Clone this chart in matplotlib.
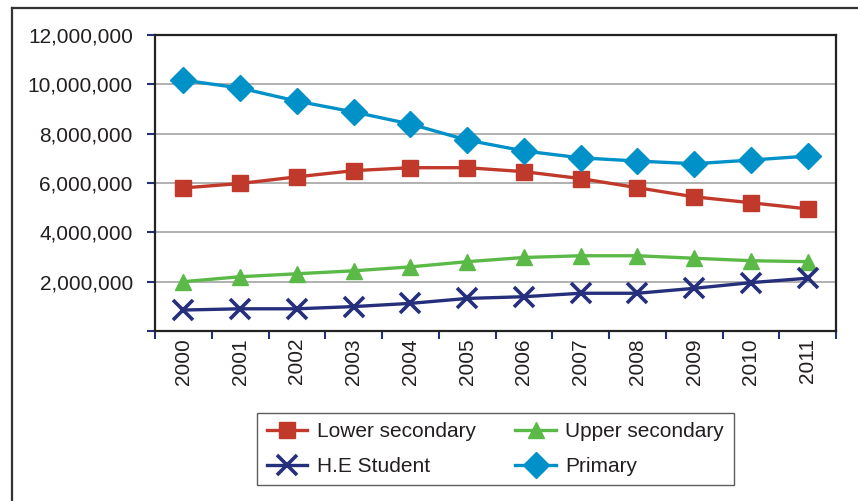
import matplotlib
matplotlib.use("Agg")
import matplotlib.pyplot as plt
from matplotlib.lines import Line2D
from matplotlib.ticker import FuncFormatter, FixedLocator
import numpy as np

years = ["2000", "2001", "2002", "2003", "2004", "2005", "2006", "2007", "2008", "2009", "2010", "2011"]
lower_secondary = [5800000, 5980000, 6250000, 6500000, 6620000, 6620000, 6460000, 6180000, 5810000, 5440000, 5200000, 4950000]
upper_secondary = [2000000, 2200000, 2320000, 2440000, 2600000, 2810000, 2980000, 3050000, 3050000, 2950000, 2850000, 2810000]
he_student = [850000, 900000, 900000, 990000, 1120000, 1320000, 1390000, 1530000, 1530000, 1730000, 1960000, 2140000]
primary = [10170000, 9850000, 9320000, 8880000, 8390000, 7740000, 7300000, 7020000, 6890000, 6780000, 6930000, 7090000]

plt.rcParams['font.family'] = ['Liberation Sans', 'DejaVu Sans']

fig = plt.figure(figsize=(8.58, 5.01), dpi=100)
W, H = 858, 501
ax = fig.add_axes([155 / W, 1 - 331 / H, (836 - 155) / W, (331 - 35) / H])

x = np.arange(len(years))
c_low = "#c0392b"
c_up = "#5bba47"
c_he = "#262f7c"
c_pri = "#0091c9"

l_low, = ax.plot(x, lower_secondary, color=c_low, lw=2.4, marker="s", ms=11, label="Lower secondary", zorder=3)
l_up, = ax.plot(x, upper_secondary, color=c_up, lw=2.4, marker="^", ms=11, label="Upper secondary", zorder=3)
l_he, = ax.plot(x, he_student, color=c_he, lw=2.4, marker="x", ms=14, mew=2.6, label="H.E Student", zorder=4)
l_pri, = ax.plot(x, primary, color=c_pri, lw=2.4, marker="D", ms=13, label="Primary", zorder=3)

ax.set_xlim(-0.5, len(years) - 0.5)
ax.set_ylim(0, 12000000)
ax.set_yticks(np.arange(0, 12000001, 2000000))
ax.yaxis.set_major_formatter(FuncFormatter(lambda v, p: "" if v == 0 else f"{int(v):,}"))
ax.grid(axis="y", color="#aaaaaa", lw=1.3, zorder=0)
ax.set_axisbelow(True)

ax.set_xticks(x)
ax.set_xticklabels(years, rotation=90)
ax.xaxis.set_minor_locator(FixedLocator(np.arange(-0.5, len(years), 1.0)))
ax.tick_params(axis="x", which="major", length=0, pad=5, labelsize=15, labelcolor="#231f20")
ax.tick_params(axis="x", which="minor", length=6, width=1.5, color=c_he, direction="out")
ax.tick_params(axis="y", which="major", length=6, width=1.5, color=c_he, direction="out",
               pad=10, labelsize=15, labelcolor="#231f20")

for s in ax.spines.values():
    s.set_color("#222222")
    s.set_linewidth(1.6)

handles = [l_low, l_he, l_up, l_pri]
labels = [h.get_label() for h in handles]
leg = fig.legend(handles, labels, loc="center", bbox_to_anchor=(495.5 / W, 1 - 449 / H), ncol=2,
                 fontsize=15, frameon=True, fancybox=False, handlelength=1.95,
                 handletextpad=0.45, columnspacing=1.9, labelspacing=0.75,
                 borderpad=0.45, edgecolor="#333333")
leg.get_frame().set_linewidth(1.0)
for t in leg.get_texts():
    t.set_color("#231f20")

# outer frame (left and top edges visible)
fig.add_artist(Line2D([11.5 / W, 11.5 / W], [0, 1 - 8 / H], color="#333333", lw=1.6))
fig.add_artist(Line2D([11.5 / W, 1], [1 - 8 / H, 1 - 8 / H], color="#333333", lw=1.6))

fig.savefig("out.png", dpi=100)
